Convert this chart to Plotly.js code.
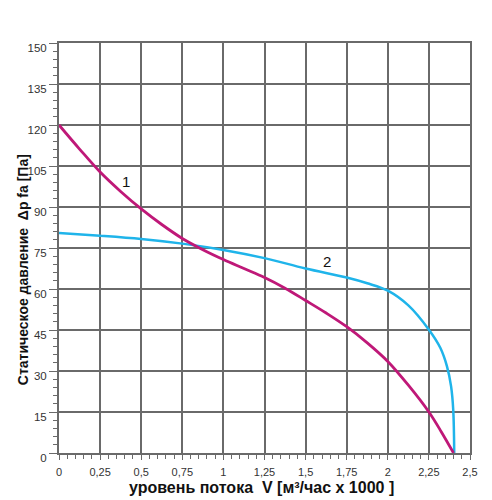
<!DOCTYPE html>
<html>
<head>
<meta charset="utf-8">
<script src="https://cdn.plot.ly/plotly-3.0.1.min.js"></script>
<style>html,body{margin:0;padding:0;background:#fff;}#chart{width:492px;height:500px;}</style>
</head>
<body>
<div id="chart"></div>
<script>
// Curve 1 (magenta)
var curve1X = [0, 0.125, 0.25, 0.375, 0.5, 0.625, 0.75, 0.875, 1.0, 1.125, 1.25, 1.375, 1.5, 1.625, 1.75, 1.875, 2.0, 2.125, 2.25, 2.325, 2.4];
var curve1Y = [120, 111.2, 102.8, 95.7, 89.3, 83.6, 78.5, 74.4, 70.8, 67.5, 64.2, 60.3, 55.8, 51.2, 46.2, 40.3, 33.5, 24.8, 15, 7.8, 0];
// Curve 2 (cyan)
var curve2X = [0, 0.25, 0.5, 0.75, 1.0, 1.25, 1.5, 1.75, 1.875, 2.0, 2.125, 2.25, 2.32, 2.36, 2.385, 2.398, 2.404];
var curve2Y = [80.5, 79.5, 78.3, 76.6, 74.3, 71.3, 67.5, 64.2, 62.1, 59.4, 54.0, 45.1, 38.4, 31.7, 24.4, 15.8, 0];
var curveLabels = ["1", "2"];
var labelX = [0.41, 1.63];
var labelY = [99.5, 70.2];

var xTickVals = [0, 0.25, 0.5, 0.75, 1, 1.25, 1.5, 1.75, 2, 2.25, 2.5];
var xTickText = ["0", "0,25", "0,5", "0,75", "1", "1,25", "1,5", "1,75", "2", "2,25", "2,5"];
var yTickVals = [0, 15, 30, 45, 60, 75, 90, 105, 120, 135, 150];
var yTickText = ["0", "15", "30", "45", "60", "75", "90", "105", "120", "135", "150"];

var xTitle = "уровень потока  V [м³/час x 1000 ]";
var yTitle = "Статическое давление  Δp fa [Па]";

var gridCol = "#6a6a6a";
var traces = [
  {x: curve2X, y: curve2Y, mode: "lines", line: {color: "#1fb4ea", width: 2.5, shape: "spline", smoothing: 1}, hoverinfo: "skip"},
  {x: curve1X, y: curve1Y, mode: "lines", line: {color: "#bf1878", width: 2.8, shape: "spline", smoothing: 1}, hoverinfo: "skip"}
];

var annotations = [];
for (var i = 0; i < curveLabels.length; i++) {
  annotations.push({x: labelX[i], y: labelY[i], xref: "x", yref: "y", text: curveLabels[i], showarrow: false,
    font: {family: "Liberation Sans, Arial, sans-serif", size: 15, color: "#111"}});
}
annotations.push({x: 0.493, y: 0, xref: "paper", yref: "paper", yanchor: "top", yshift: -25, text: "<b>" + xTitle + "</b>", showarrow: false,
  borderpad: 0, font: {family: "Liberation Sans, Arial, sans-serif", size: 16, color: "#111"}});
annotations.push({x: 0, y: 0.446, xref: "paper", yref: "paper", xanchor: "center", xshift: -36, text: "<b>" + yTitle + "</b>", textangle: -90, showarrow: false,
  borderpad: 0, font: {family: "Liberation Sans, Arial, sans-serif", size: 14, color: "#111"}});

var layout = {
  width: 492, height: 500,
  margin: {l: 59, r: 22, t: 43, b: 47},
  paper_bgcolor: "#fff", plot_bgcolor: "#fff",
  showlegend: false,
  font: {family: "Liberation Sans, Arial, sans-serif", size: 11, color: "#333"},
  xaxis: {
    range: [0, 2.5], tickvals: xTickVals, ticktext: xTickText, tickmode: "array",
    showgrid: true, gridcolor: gridCol, gridwidth: 2,
    showline: true, linecolor: gridCol, linewidth: 2, mirror: true,
    ticks: "outside", ticklen: 5, tickcolor: gridCol, tickwidth: 1,
    minor: {dtick: 0.05, ticks: "outside", ticklen: 4, tickcolor: gridCol, tickwidth: 1, showgrid: false},
    zeroline: false, fixedrange: true, ticklabelstandoff: 3,
    tickfont: {size: 11, color: "#333"}
  },
  yaxis: {
    range: [0, 150], tickvals: yTickVals, ticktext: yTickText, tickmode: "array",
    showgrid: true, gridcolor: gridCol, gridwidth: 2,
    showline: true, linecolor: gridCol, linewidth: 2, mirror: true,
    ticks: "outside", ticklen: 8, tickcolor: gridCol, tickwidth: 1,
    minor: {dtick: 3, ticks: "outside", ticklen: 4, tickcolor: gridCol, tickwidth: 1, showgrid: false},
    zeroline: false, fixedrange: true, ticklabelshift: 5, ticklabelstandoff: 0,
    tickfont: {size: 11.5, color: "#333"}
  },
  annotations: annotations
};

Plotly.newPlot("chart", traces, layout, {displayModeBar: false, staticPlot: true});
</script>
</body>
</html>
